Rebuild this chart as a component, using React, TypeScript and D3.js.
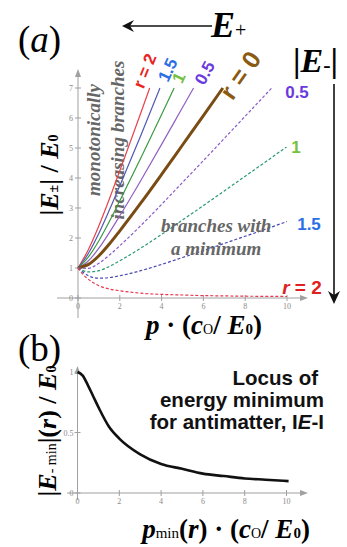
import React from "react";
import * as d3 from "d3";

// p values and |E|/E0
const solidR0: [number, number][] = [[0, 1], [0.5, 1.12], [1, 1.41], [1.5, 1.8], [2, 2.24], [3, 3.16], [4, 4.12], [5, 5.1], [6, 6.08], [6.93, 7]];
const solidR05: [number, number][] = [[0, 1], [0.5, 1.24], [1, 1.66], [1.5, 2.18], [2, 2.74], [3, 3.91], [4, 5.12], [5, 6.35], [5.53, 7]];
const solidR1: [number, number][] = [[0, 1], [0.5, 1.37], [1, 1.91], [1.5, 2.55], [2, 3.24], [3, 4.66], [4, 6.12], [4.6, 7]];
const solidR15: [number, number][] = [[0, 1], [0.5, 1.49], [1, 2.16], [1.5, 2.93], [2, 3.74], [3, 5.41], [3.92, 7]];
const solidR2: [number, number][] = [[0, 1], [0.5, 1.62], [1, 2.41], [1.5, 3.3], [2, 4.24], [3, 6.16], [3.43, 7]];

const dashR05: [number, number][] = [[0, 1], [0.5, 0.99], [1, 1.16], [1.5, 1.43], [2, 1.74], [3, 2.41], [4, 3.12], [5, 3.85], [6, 4.58], [7, 5.32], [8, 6.06], [9, 6.8], [9.27, 7]];
const dashR1: [number, number][] = [[0, 1], [0.5, 0.87], [1, 0.91], [1.5, 1.05], [2, 1.24], [3, 1.66], [4, 2.12], [5, 2.6], [6, 3.08], [7, 3.57], [8, 4.06], [9, 4.55], [10, 5.05]];
const dashR15: [number, number][] = [[0, 1], [0.5, 0.74], [1, 0.66], [1.5, 0.68], [2, 0.74], [3, 0.91], [4, 1.12], [5, 1.35], [6, 1.58], [7, 1.82], [8, 2.06], [9, 2.3], [10, 2.55]];
const dashR2: [number, number][] = [[0, 1], [0.25, 0.78], [0.5, 0.62], [1, 0.41], [1.5, 0.3], [2, 0.24], [3, 0.16], [4, 0.12], [5, 0.1], [6, 0.08], [7, 0.07], [8, 0.06], [9, 0.055], [10, 0.05]];

// panel (b): locus of the minimum
const locus: [number, number][] = [[0, 1], [0.25, 0.97], [0.5, 0.89], [0.75, 0.8], [1, 0.71], [1.5, 0.55], [2, 0.45], [3, 0.32], [4, 0.24], [5, 0.2], [6, 0.16], [7, 0.14], [8, 0.12], [9, 0.11], [10.1, 0.098]];

const xTicksA = [0, 2, 4, 6, 8, 10];
const yTicksA = [0, 1, 2, 3, 4, 5, 6, 7];
const xTicksB = [0, 2, 4, 6, 8, 10];
const yTicksB = [0, 0.5, 1];

const serif = "'Liberation Serif', 'DejaVu Serif', serif";
const sans = "'Liberation Sans', Arial, sans-serif";
const axisGray = "#a0a0a0";

const curves = [
  { d: solidR2, color: "#e8424a", w: 1.2, dash: "" },
  { d: solidR15, color: "#5058b0", w: 1.2, dash: "" },
  { d: solidR1, color: "#3c9a40", w: 1.2, dash: "" },
  { d: solidR05, color: "#9060c0", w: 1.2, dash: "" },
  { d: solidR0, color: "#7a4c14", w: 3, dash: "" },
  { d: dashR05, color: "#8a5ac8", w: 1.2, dash: "3,2" },
  { d: dashR1, color: "#2a9a72", w: 1.2, dash: "3,2" },
  { d: dashR15, color: "#4848b4", w: 1.2, dash: "3,2" },
  { d: dashR2, color: "#e83850", w: 1.2, dash: "3,2" },
];

export default function App() {
  const x = d3.scaleLinear().domain([0, 10]).range([78, 287]);
  const y = d3.scaleLinear().domain([0, 7]).range([298, 88]);
  const xb = d3.scaleLinear().domain([0, 10]).range([77.5, 286.5]);
  const yb = d3.scaleLinear().domain([0, 1]).range([493, 372]);

  const lineA = d3.line<[number, number]>().x((d) => x(d[0])).y((d) => y(d[1])).curve(d3.curveMonotoneX);
  const lineB = d3.line<[number, number]>().x((d) => xb(d[0])).y((d) => yb(d[1])).curve(d3.curveMonotoneX);

  return (
    <div style={{ position: "absolute", left: 0, top: 0 }}>
      <svg width={347} height={547} style={{ display: "block", background: "#fff" }}>
        {/* panel (a) axes */}
        <g stroke={axisGray} strokeWidth={1}>
          <line x1={x(0)} x2={x(0)} y1={318} y2={72} />
          <line x1={57} x2={305} y1={y(0)} y2={y(0)} />
          {yTicksA.map((t) => (
            <line key={"ya" + t} x1={x(0) - 3} x2={x(0) + 3} y1={y(t)} y2={y(t)} />
          ))}
          {xTicksA.map((t) => (
            <line key={"xa" + t} x1={x(t)} x2={x(t)} y1={y(0) - 3} y2={y(0) + 3} />
          ))}
        </g>
        <path d={`M${x(0)},69 l-3,8 l6,0 z`} fill={axisGray} />
        <path d={`M308,${y(0)} l-8,-3 l0,6 z`} fill={axisGray} />
        <g fontFamily={serif} fontSize={8} fill="#8a8a8a">
          {yTicksA.map((t) => (
            <text key={"yl" + t} x={x(0) - 5} y={y(t) + 3} textAnchor="end">{t}</text>
          ))}
          {xTicksA.map((t) => (
            <text key={"xl" + t} x={x(t)} y={y(0) + 11} textAnchor="middle">{t}</text>
          ))}
        </g>

        {/* branch labels (gray text) */}
        <g fontFamily={serif} fontStyle="italic" fontWeight="bold" fill="#666" fontSize={19}>
          <text transform="translate(100,140) rotate(-90)" textAnchor="middle">monotonically</text>
          <text transform="translate(124,140) rotate(-90)" textAnchor="middle">increasing branches</text>
        </g>

        {/* curves */}
        {curves.map((c, i) => (
          <path key={i} d={lineA(c.d) || ""} fill="none" stroke={c.color} strokeWidth={c.w} strokeDasharray={c.dash || undefined} />
        ))}

        <g fontFamily={serif} fontStyle="italic" fontWeight="bold" fill="#666" fontSize={19}>
          <text x={161} y={232}>branches with</text>
          <text x={171} y={255}>a minimum</text>
        </g>

        {/* curve end labels */}
        <g fontFamily={sans} fontWeight="bold" dominantBaseline="central" textAnchor="middle">
          <text transform="translate(145,71) rotate(-68)" fontSize={17} fill="#e82424">r = 2</text>
          <text transform="translate(168,70) rotate(-65)" fontSize={17} fill="#2a6ee8">1.5</text>
          <text transform="translate(179,78) rotate(-65)" fontSize={17} fill="#74c040">1</text>
          <text transform="translate(205,73) rotate(-62)" fontSize={17} fill="#6a3ae0">0.5</text>
          <text transform="translate(240,75) rotate(-55)" fontSize={25} fill="#8a5a12">r = 0</text>
          <text x={297} y={92} fontSize={17} fill="#6a3ae0">0.5</text>
          <text x={296} y={147} fontSize={17} fill="#74c040">1</text>
          <text x={309} y={224} fontSize={17} fill="#2a6ee8">1.5</text>
          <text x={302} y={287} fontSize={19} fill="#e02020">
            <tspan fontStyle="italic">r</tspan> = 2
          </text>
        </g>

        {/* big arrows */}
        <line x1={212} y1={26} x2={124} y2={26} stroke="#111" strokeWidth={1.6} />
        <path d="M122,26 l12,-6 l-4,6 l4,6 z" fill="#111" />
        <line x1={334} y1={84} x2={334} y2={296} stroke="#111" strokeWidth={1.6} />
        <path d="M334,304 l-6,-13 l6,4 l6,-4 z" fill="#111" />

        {/* titles and axis labels */}
        <text x={18} y={52} fontFamily={serif} fontSize={37}>
          (<tspan fontStyle="italic">a</tspan>)
        </text>
        <text x={211} y={37} fontFamily={serif} fontWeight="bold" fontStyle="italic" fontSize={36}>
          E<tspan fontStyle="normal" fontWeight="normal" fontSize={20}>+</tspan>
        </text>
        <text x={293} y={72} fontFamily={serif} fontWeight="bold" fontSize={34}>
          |<tspan fontStyle="italic">E</tspan><tspan fontSize={22}>-</tspan>|
        </text>

        <text transform="translate(58,175) rotate(-90)" textAnchor="middle" fontFamily={serif} fontWeight="bold" fontSize={26}>
          |<tspan fontStyle="italic">E</tspan><tspan fontSize={14}>±</tspan>| / <tspan fontStyle="italic">E</tspan><tspan fontSize={14}>0</tspan>
        </text>
        <text x={204} y={334} textAnchor="middle" fontFamily={serif} fontWeight="bold" fontSize={27}>
          <tspan fontStyle="italic">p</tspan> · (<tspan fontStyle="italic">c</tspan><tspan fontSize={14} fontWeight="normal">O</tspan>/ <tspan fontStyle="italic">E</tspan><tspan fontSize={15}>0</tspan>)
        </text>

        {/* panel (b) */}
        <text x={18} y={361} fontFamily={serif} fontSize={37}>(b)</text>
        <g stroke={axisGray} strokeWidth={1}>
          <line x1={xb(0)} x2={xb(0)} y1={500} y2={369} />
          <line x1={67} x2={305} y1={yb(0)} y2={yb(0)} />
          {yTicksB.map((t) => (
            <line key={"yb" + t} x1={xb(0) - 3} x2={xb(0) + 3} y1={yb(t)} y2={yb(t)} />
          ))}
          {xTicksB.map((t) => (
            <line key={"xb" + t} x1={xb(t)} x2={xb(t)} y1={yb(0) - 3} y2={yb(0) + 3} />
          ))}
        </g>
        <path d={`M${xb(0)},366 l-3,8 l6,0 z`} fill={axisGray} />
        <path d={`M308,${yb(0)} l-8,-3 l0,6 z`} fill={axisGray} />
        <g fontFamily={serif} fontSize={8} fill="#8a8a8a">
          {yTicksB.map((t) => (
            <text key={"ybl" + t} x={xb(0) - 4} y={yb(t) + 3} textAnchor="end">{t}</text>
          ))}
          {xTicksB.map((t) => (
            <text key={"xbl" + t} x={xb(t)} y={yb(0) + 11} textAnchor="middle">{t}</text>
          ))}
        </g>
        <path d={lineB(locus) || ""} fill="none" stroke="#111" strokeWidth={2.6} />

        <g fontFamily={sans} fontWeight="bold" fontSize={20.5} fill="#111" textAnchor="end">
          <text x={318} y={385}>Locus of</text>
          <text x={324} y={407}>energy minimum</text>
          <text x={324} y={429}>
            for antimatter, I<tspan fontStyle="italic">E</tspan>-I
          </text>
        </g>

        <text transform="translate(56,431) rotate(-90)" textAnchor="middle" fontFamily={serif} fontWeight="bold" fontSize={26}>
          |<tspan fontStyle="italic">E</tspan><tspan fontSize={14} fontWeight="normal">- min</tspan>|(<tspan fontStyle="italic">r</tspan>) / <tspan fontStyle="italic">E</tspan><tspan fontSize={14}>0</tspan>
        </text>
        <text x={226} y={538} textAnchor="middle" fontFamily={serif} fontWeight="bold" fontSize={27}>
          <tspan fontStyle="italic">p</tspan><tspan fontSize={15} fontWeight="normal">min</tspan>(<tspan fontStyle="italic">r</tspan>) · (<tspan fontStyle="italic">c</tspan><tspan fontSize={14} fontWeight="normal">O</tspan>/ <tspan fontStyle="italic">E</tspan><tspan fontSize={15}>0</tspan>)
        </text>
      </svg>
    </div>
  );
}
